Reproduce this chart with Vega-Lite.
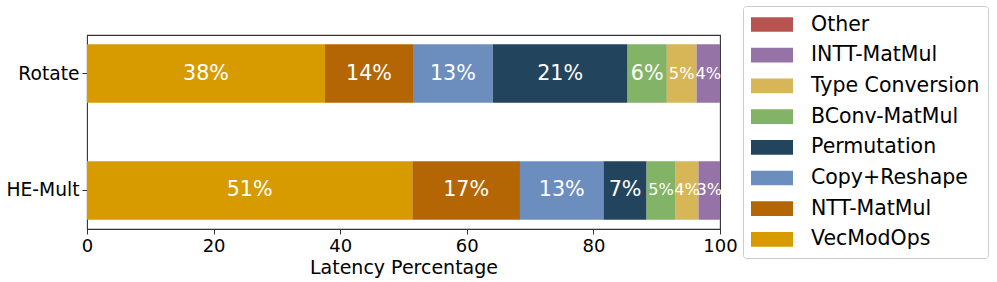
{
  "$schema": "https://vega.github.io/schema/vega-lite/v6.json",
  "width": 633,
  "height": 194,
  "autosize": {"type": "none"},
  "padding": {"left": 87, "top": 35, "right": 277, "bottom": 53},
  "config": {"font": "DejaVu Sans", "view": {"stroke": "#333", "strokeWidth": 1.1}},
  "data": {
    "values": [
      {"op": "Rotate", "seg": "VecModOps", "k": 1, "value": 37.6},
      {"op": "Rotate", "seg": "NTT-MatMul", "k": 2, "value": 13.9},
      {"op": "Rotate", "seg": "Copy+Reshape", "k": 3, "value": 12.6},
      {"op": "Rotate", "seg": "Permutation", "k": 4, "value": 21.3},
      {"op": "Rotate", "seg": "BConv-MatMul", "k": 5, "value": 6.2},
      {"op": "Rotate", "seg": "Type Conversion", "k": 6, "value": 4.7},
      {"op": "Rotate", "seg": "INTT-MatMul", "k": 7, "value": 3.7},
      {"op": "Rotate", "seg": "Other", "k": 8, "value": 0},
      {"op": "HE-Mult", "seg": "VecModOps", "k": 1, "value": 51.4},
      {"op": "HE-Mult", "seg": "NTT-MatMul", "k": 2, "value": 17.0},
      {"op": "HE-Mult", "seg": "Copy+Reshape", "k": 3, "value": 13.2},
      {"op": "HE-Mult", "seg": "Permutation", "k": 4, "value": 6.8},
      {"op": "HE-Mult", "seg": "BConv-MatMul", "k": 5, "value": 4.6},
      {"op": "HE-Mult", "seg": "Type Conversion", "k": 6, "value": 3.6},
      {"op": "HE-Mult", "seg": "INTT-MatMul", "k": 7, "value": 3.4},
      {"op": "HE-Mult", "seg": "Other", "k": 8, "value": 0}
    ]
  },
  "encoding": {
    "y": {
      "field": "op", "type": "nominal", "sort": ["Rotate", "HE-Mult"],
      "scale": {"paddingInner": 0.5, "paddingOuter": 0.08},
      "axis": {"title": null, "labelFontSize": 18.7, "labelColor": "black", "domain": false, "tickSize": 5, "tickColor": "#333", "labelPadding": 3, "grid": false}
    },
    "order": {"field": "k", "type": "quantitative"}
  },
  "layer": [
    {
      "mark": {"type": "bar"},
      "encoding": {
        "x": {
          "field": "value", "type": "quantitative", "stack": "zero",
          "scale": {"domain": [0, 100], "nice": false},
          "axis": {"title": "Latency Percentage", "values": [0, 20, 40, 60, 80, 100], "labelFontSize": 18, "titleFontSize": 19, "labelColor": "black", "titleColor": "black", "titleFontWeight": "normal", "domain": false, "tickSize": 5, "tickColor": "#333", "labelPadding": 3, "titlePadding": 3, "grid": false, "labelFlush": false, "labelOverlap": false}
        },
        "color": {
          "field": "seg", "type": "nominal",
          "scale": {
            "domain": ["Other", "INTT-MatMul", "Type Conversion", "BConv-MatMul", "Permutation", "Copy+Reshape", "NTT-MatMul", "VecModOps"],
            "range": ["#b85450", "#9673a6", "#d6b656", "#82b366", "#23445d", "#6c8ebf", "#b46504", "#d79b00"]
          },
          "legend": {
            "title": null, "orient": "none", "legendX": 656, "legendY": -29,
            "symbolType": "M-1,-0.7H3V0.7H-1Z", "symbolSize": 441, "symbolStrokeWidth": 0, "symbolOpacity": 1,
            "labelFontSize": 20.5, "labelColor": "black", "labelOffset": 39, "labelLimit": 300,
            "rowPadding": 9.7, "padding": 8, "strokeColor": "#cccccc", "cornerRadius": 3, "fillColor": "white"
          }
        }
      }
    },
    {
      "transform": [{"filter": "datum.value >= 1"}],
      "mark": {"type": "text", "color": "white", "baseline": "middle", "align": "center", "text": {"expr": "format(datum.value, '.0f') + '%'"}},
      "encoding": {
        "x": {"field": "value", "type": "quantitative", "stack": "zero", "bandPosition": 0.5},
        "detail": {"field": "seg"},
        "size": {"condition": {"test": "datum.value < 5.5", "value": 16.2}, "value": 20.7}
      }
    }
  ]
}
